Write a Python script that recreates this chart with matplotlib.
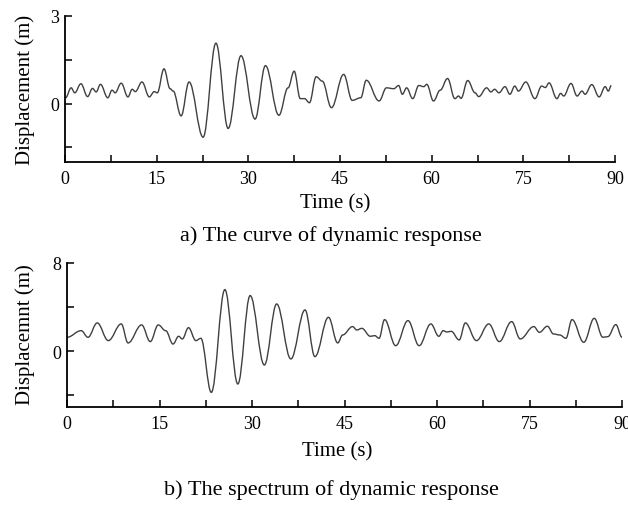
import matplotlib
matplotlib.use("Agg")
import matplotlib.pyplot as plt
from matplotlib.path import Path
from matplotlib.patches import PathPatch
from matplotlib.ticker import MultipleLocator

# turning points: time (s), displacement (m)
t_a = [0.1, 1.0, 1.6, 2.6, 3.7, 4.5, 5.1, 5.8, 7.0, 7.7, 8.2, 9.2, 10.3, 11.0, 11.5,
       12.6, 13.8, 14.6, 15.1, 16.2, 17.2, 17.7, 19.0, 20.3, 22.6, 24.7, 26.7, 28.8,
       31.1, 32.8, 35.0, 36.5, 37.5, 38.5, 39.2, 40.0, 41.1, 42.1, 43.6, 45.6, 47.0,
       48.4, 49.3, 51.4, 52.6, 53.8, 54.6, 55.2, 55.9, 56.9, 57.9, 58.7, 59.2, 60.3,
       61.4, 62.6, 63.8, 64.4, 64.8, 65.9, 67.1, 67.7, 69.0, 69.7, 70.3, 71.0, 72.0,
       72.8, 73.6, 74.2, 75.4, 76.9, 78.0, 78.6, 79.2, 80.5, 81.1, 81.6, 82.8, 83.8,
       84.6, 85.1, 86.2, 87.4, 88.4, 88.9, 89.4]
d_a = [0.20, 0.54, 0.37, 0.68, 0.24, 0.52, 0.40, 0.66, 0.20, 0.46, 0.37, 0.70, 0.23,
       0.49, 0.41, 0.74, 0.23, 0.41, 0.37, 1.19, 0.51, 0.43, -0.42, 0.74, -1.15, 2.07,
       -0.85, 1.64, -0.53, 1.30, -0.40, 0.54, 1.11, 0.17, 0.17, 0.03, 0.92, 0.77, -0.14,
       1.00, 0.11, 0.20, 0.80, 0.09, 0.54, 0.51, 0.62, 0.32, 0.54, 0.17, 0.62, 0.58,
       0.66, 0.09, 0.46, 0.86, 0.17, 0.26, 0.18, 0.79, 0.37, 0.24, 0.54, 0.40, 0.49,
       0.37, 0.58, 0.32, 0.60, 0.43, 0.74, 0.17, 0.60, 0.55, 0.71, 0.17, 0.35, 0.26,
       0.69, 0.26, 0.43, 0.32, 0.65, 0.23, 0.58, 0.43, 0.62]

t_b = [0.0, 2.3, 3.4, 4.9, 6.7, 8.8, 9.9, 12.1, 13.5, 14.8, 16.0, 17.2, 18.1, 18.7,
       19.7, 20.9, 21.7, 23.4, 25.6, 27.7, 29.7, 32.0, 34.0, 36.3, 38.6, 40.2, 42.4,
       43.9, 44.7, 46.3, 47.0, 47.8, 49.2, 49.9, 50.6, 51.5, 53.3, 55.3, 57.1, 59.0,
       60.3, 61.0, 61.6, 62.3, 63.6, 64.6, 66.4, 68.4, 70.1, 72.1, 73.5, 75.7, 76.6,
       77.9, 78.9, 79.9, 80.9, 81.9, 83.8, 85.5, 86.9, 87.7, 89.0, 90.0]
d_b = [1.27, 1.87, 1.27, 2.57, 0.97, 2.48, 0.76, 2.39, 0.88, 2.39, 1.87, 0.66, 1.36,
       1.12, 2.14, 0.97, 1.18, -3.72, 5.59, -2.96, 5.05, -1.24, 4.29, -0.69, 3.75,
       -0.48, 3.08, 0.76, 1.48, 2.24, 1.93, 2.08, 1.36, 1.42, 1.18, 2.87, 0.51, 2.78,
       0.51, 2.48, 1.36, 1.87, 1.75, 1.81, 1.03, 2.57, 0.97, 2.48, 0.88, 2.69, 1.12,
       2.24, 1.72, 2.27, 1.57, 1.48, 1.18, 2.87, 0.82, 2.99, 1.27, 1.33, 2.42, 1.27]

plt.rcParams['font.family'] = ['Liberation Serif', 'DejaVu Serif']


def smooth_line(ax, t, d, color="#404040", lw=1.0):
    # Origin-style smooth connection: bezier segments, flat at each turning point
    verts = [(t[0], d[0])]
    codes = [Path.MOVETO]
    for i in range(len(t) - 1):
        dt = t[i + 1] - t[i]
        verts += [(t[i] + 0.38 * dt, d[i]), (t[i + 1] - 0.38 * dt, d[i + 1]),
                  (t[i + 1], d[i + 1])]
        codes += [Path.CURVE4] * 3
    ax.add_patch(PathPatch(Path(verts, codes), fill=False, edgecolor=color, lw=lw))


def style_axes(ax, ylim, ymajor, yminor):
    ax.set_xlim(0, 90)
    ax.set_ylim(*ylim)
    ax.spines['top'].set_visible(False)
    ax.spines['right'].set_visible(False)
    for s in ('left', 'bottom'):
        ax.spines[s].set_linewidth(1.3)
    ax.xaxis.set_major_locator(MultipleLocator(15))
    ax.xaxis.set_minor_locator(MultipleLocator(7.5))
    ax.set_yticks(ymajor)
    ax.set_yticks(yminor, minor=True)
    ax.tick_params(which='both', direction='in', length=5, width=1.1, labelsize=13)
    ax.tick_params(axis='x', pad=6)
    ax.tick_params(axis='y', pad=4)


fig = plt.figure(figsize=(6.28, 5.06), dpi=100)

ax1 = fig.add_axes([65 / 628, 1 - 163 / 506, 550 / 628, 146 / 506])
smooth_line(ax1, t_a, d_a)
style_axes(ax1, (-2, 3), [0, 3], [-1.5, 1.5])

ax2 = fig.add_axes([67 / 628, 1 - 407.5 / 506, 555 / 628, 143.5 / 506])
smooth_line(ax2, t_b, d_b)
style_axes(ax2, (-5, 8), [0, 8], [-4, 4])

fig.text(25 / 628, 1 - 90 / 506, "Displacement (m)", rotation=90, fontsize=15,
         ha='center', va='center')
fig.text(25 / 628, 1 - 335 / 506, "Displacemnt (m)", rotation=90, fontsize=15,
         ha='center', va='center')
fig.text(335 / 628, 1 - 204 / 506, "Time (s)", fontsize=15, ha='center', va='center')
fig.text(331 / 628, 1 - 236 / 506, "a) The curve of dynamic response", fontsize=16,
         ha='center', va='center')
fig.text(337 / 628, 1 - 452 / 506, "Time (s)", fontsize=15, ha='center', va='center')
fig.text(331 / 628, 1 - 490 / 506, "b) The spectrum of dynamic response", fontsize=16,
         ha='center', va='center')

fig.savefig("out.png", dpi=100)
